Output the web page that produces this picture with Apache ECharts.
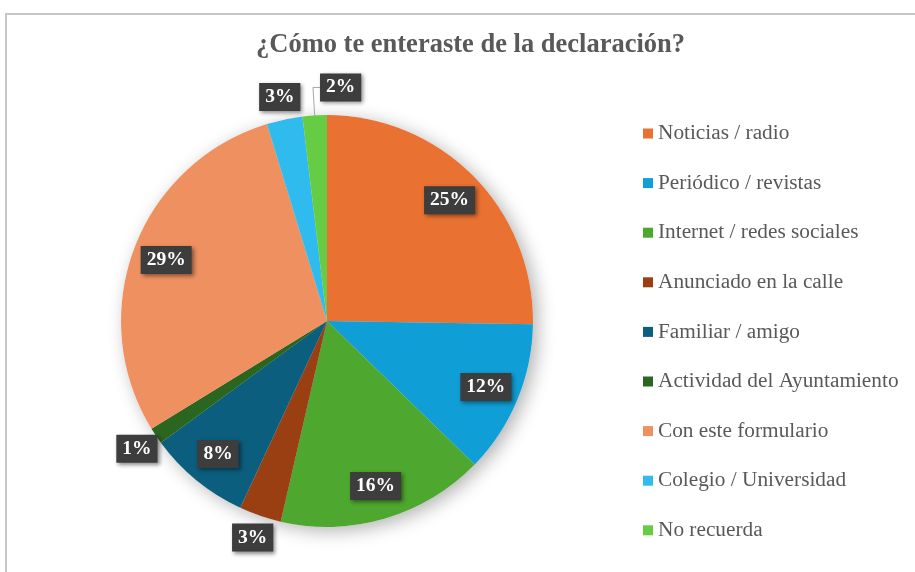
<!DOCTYPE html>
<html><head><meta charset="utf-8">
<script src="https://cdn.jsdelivr.net/npm/echarts@6/dist/echarts.min.js"></script>
<style>
html,body{margin:0;padding:0;background:#fff;overflow:hidden;}
#frame{position:absolute;left:5px;top:13px;width:1000px;height:1000px;border-top:2px solid #c6c6c6;border-left:2px solid #c6c6c6;box-sizing:border-box;}
#chart{position:absolute;left:0;top:0;width:915px;height:572px;}
</style></head><body>
<div id="frame"></div><div id="chart"></div>
<script>
const chartTitle = '¿Cómo te enteraste de la declaración?';
const categories = [
  'Noticias / radio',
  'Periódico / revistas',
  'Internet / redes sociales',
  'Anunciado en la calle',
  'Familiar / amigo',
  'Actividad del Ayuntamiento',
  'Con este formulario',
  'Colegio / Universidad',
  'No recuerda'
];
const values = [25.2, 12.0, 16.3, 3.3, 8.0, 1.3, 29.0, 2.8, 1.9];
const colors = ['#E97132', '#0F9ED5', '#4EA72E', '#993F12', '#0B5E7E', '#2B6620', '#EE9060', '#30BBEE', '#66CC44'];

// which slices get their label on the inner ring, outer ring, or with a leader line
const innerLabelIdx = [0, 1, 2, 4, 6];
const outerLabelIdx = [3, 5, 7];
const leaderLabelIdx = [8];

const CENTER = [327, 321];
const R = 206;

const labelBox = {
  color: '#fff',
  fontFamily: 'Liberation Serif, Times New Roman, serif',
  fontWeight: 'bold',
  fontSize: 19.5,
  lineHeight: 21,
  backgroundColor: '#3d3d3d',
  padding: [4, 6, 3, 6],
  shadowBlur: 4,
  shadowOffsetX: 2,
  shadowOffsetY: 2,
  shadowColor: 'rgba(0,0,0,0.45)',
  formatter: p => Math.round(p.percent) + '%'
};

function ring(name, radius, idxList, z) {
  return {
    type: 'pie', name: name, center: CENTER, radius: radius, startAngle: 90, clockwise: true,
    silent: true, z: z, avoidLabelOverlap: false, legendHoverLink: false,
    emphasis: { disabled: true },
    itemStyle: { color: 'rgba(0,0,0,0)', borderWidth: 0 },
    labelLine: { show: false },
    label: Object.assign({ position: 'inside' }, labelBox),
    data: categories.map((c, i) => ({ name: c, value: values[i], label: { show: idxList.includes(i) } }))
  };
}

const chart = echarts.init(document.getElementById('chart'), null, { renderer: 'canvas' });
chart.setOption({
  animation: false,
  color: colors,
  title: {
    text: chartTitle, left: 256, top: 30, padding: 0,
    textStyle: { fontFamily: 'Liberation Serif, Times New Roman, serif', fontWeight: 'bold', fontSize: 26.5, lineHeight: 30, color: '#595959' }
  },
  legend: {
    orient: 'vertical', left: 643, top: 123, padding: 0, itemWidth: 10, itemHeight: 10, itemGap: 28.6,
    icon: 'rect', selectedMode: false,
    itemStyle: { shadowBlur: 0, borderWidth: 0 },
    textStyle: { fontFamily: 'Liberation Serif, Times New Roman, serif', fontSize: 21.3, lineHeight: 20, color: '#595959' },
    data: categories
  },
  series: [
    {
      type: 'pie', name: 'main', center: CENTER, radius: R, startAngle: 90, clockwise: true,
      z: 2, avoidLabelOverlap: false, silent: true,
      emphasis: { disabled: true },
      itemStyle: { borderWidth: 0 },
      label: Object.assign({ position: 'outside', distanceToLabelLine: 0 }, labelBox),
      labelLine: { length: 28, length2: 7, smooth: false, lineStyle: { color: '#a6a6a6', width: 1 } },
      labelLayout: function (p) {
        if (!leaderLabelIdx.includes(p.dataIndex) || !p.labelLinePoints) return {};
        const pts = p.labelLinePoints;
        const p2 = pts[1];
        const x3 = 2 * p2[0] - pts[2][0];
        return { x: x3, y: p2[1], align: 'left', verticalAlign: 'middle', labelLinePoints: [pts[0], p2, [x3, p2[1]]] };
      },
      data: categories.map((c, i) => ({
        name: c, value: values[i],
        label: { show: leaderLabelIdx.includes(i) },
        labelLine: { show: leaderLabelIdx.includes(i) }
      }))
    },
    {
      type: 'pie', name: 'shadow', center: CENTER, radius: R, startAngle: 90, clockwise: true,
      z: 1, silent: true, legendHoverLink: false, emphasis: { disabled: true },
      itemStyle: { color: '#ffffff', shadowBlur: 18, shadowOffsetX: 5, shadowOffsetY: 4, shadowColor: 'rgba(0,0,0,0.3)' },
      label: { show: false }, labelLine: { show: false },
      data: categories.map((c, i) => ({ name: c, value: values[i] }))
    },
    ring('innerLabels', [140, 198], innerLabelIdx, 3),
    ring('outerLabels', [205, 247], outerLabelIdx, 3)
  ]
});
</script>
</body></html>
